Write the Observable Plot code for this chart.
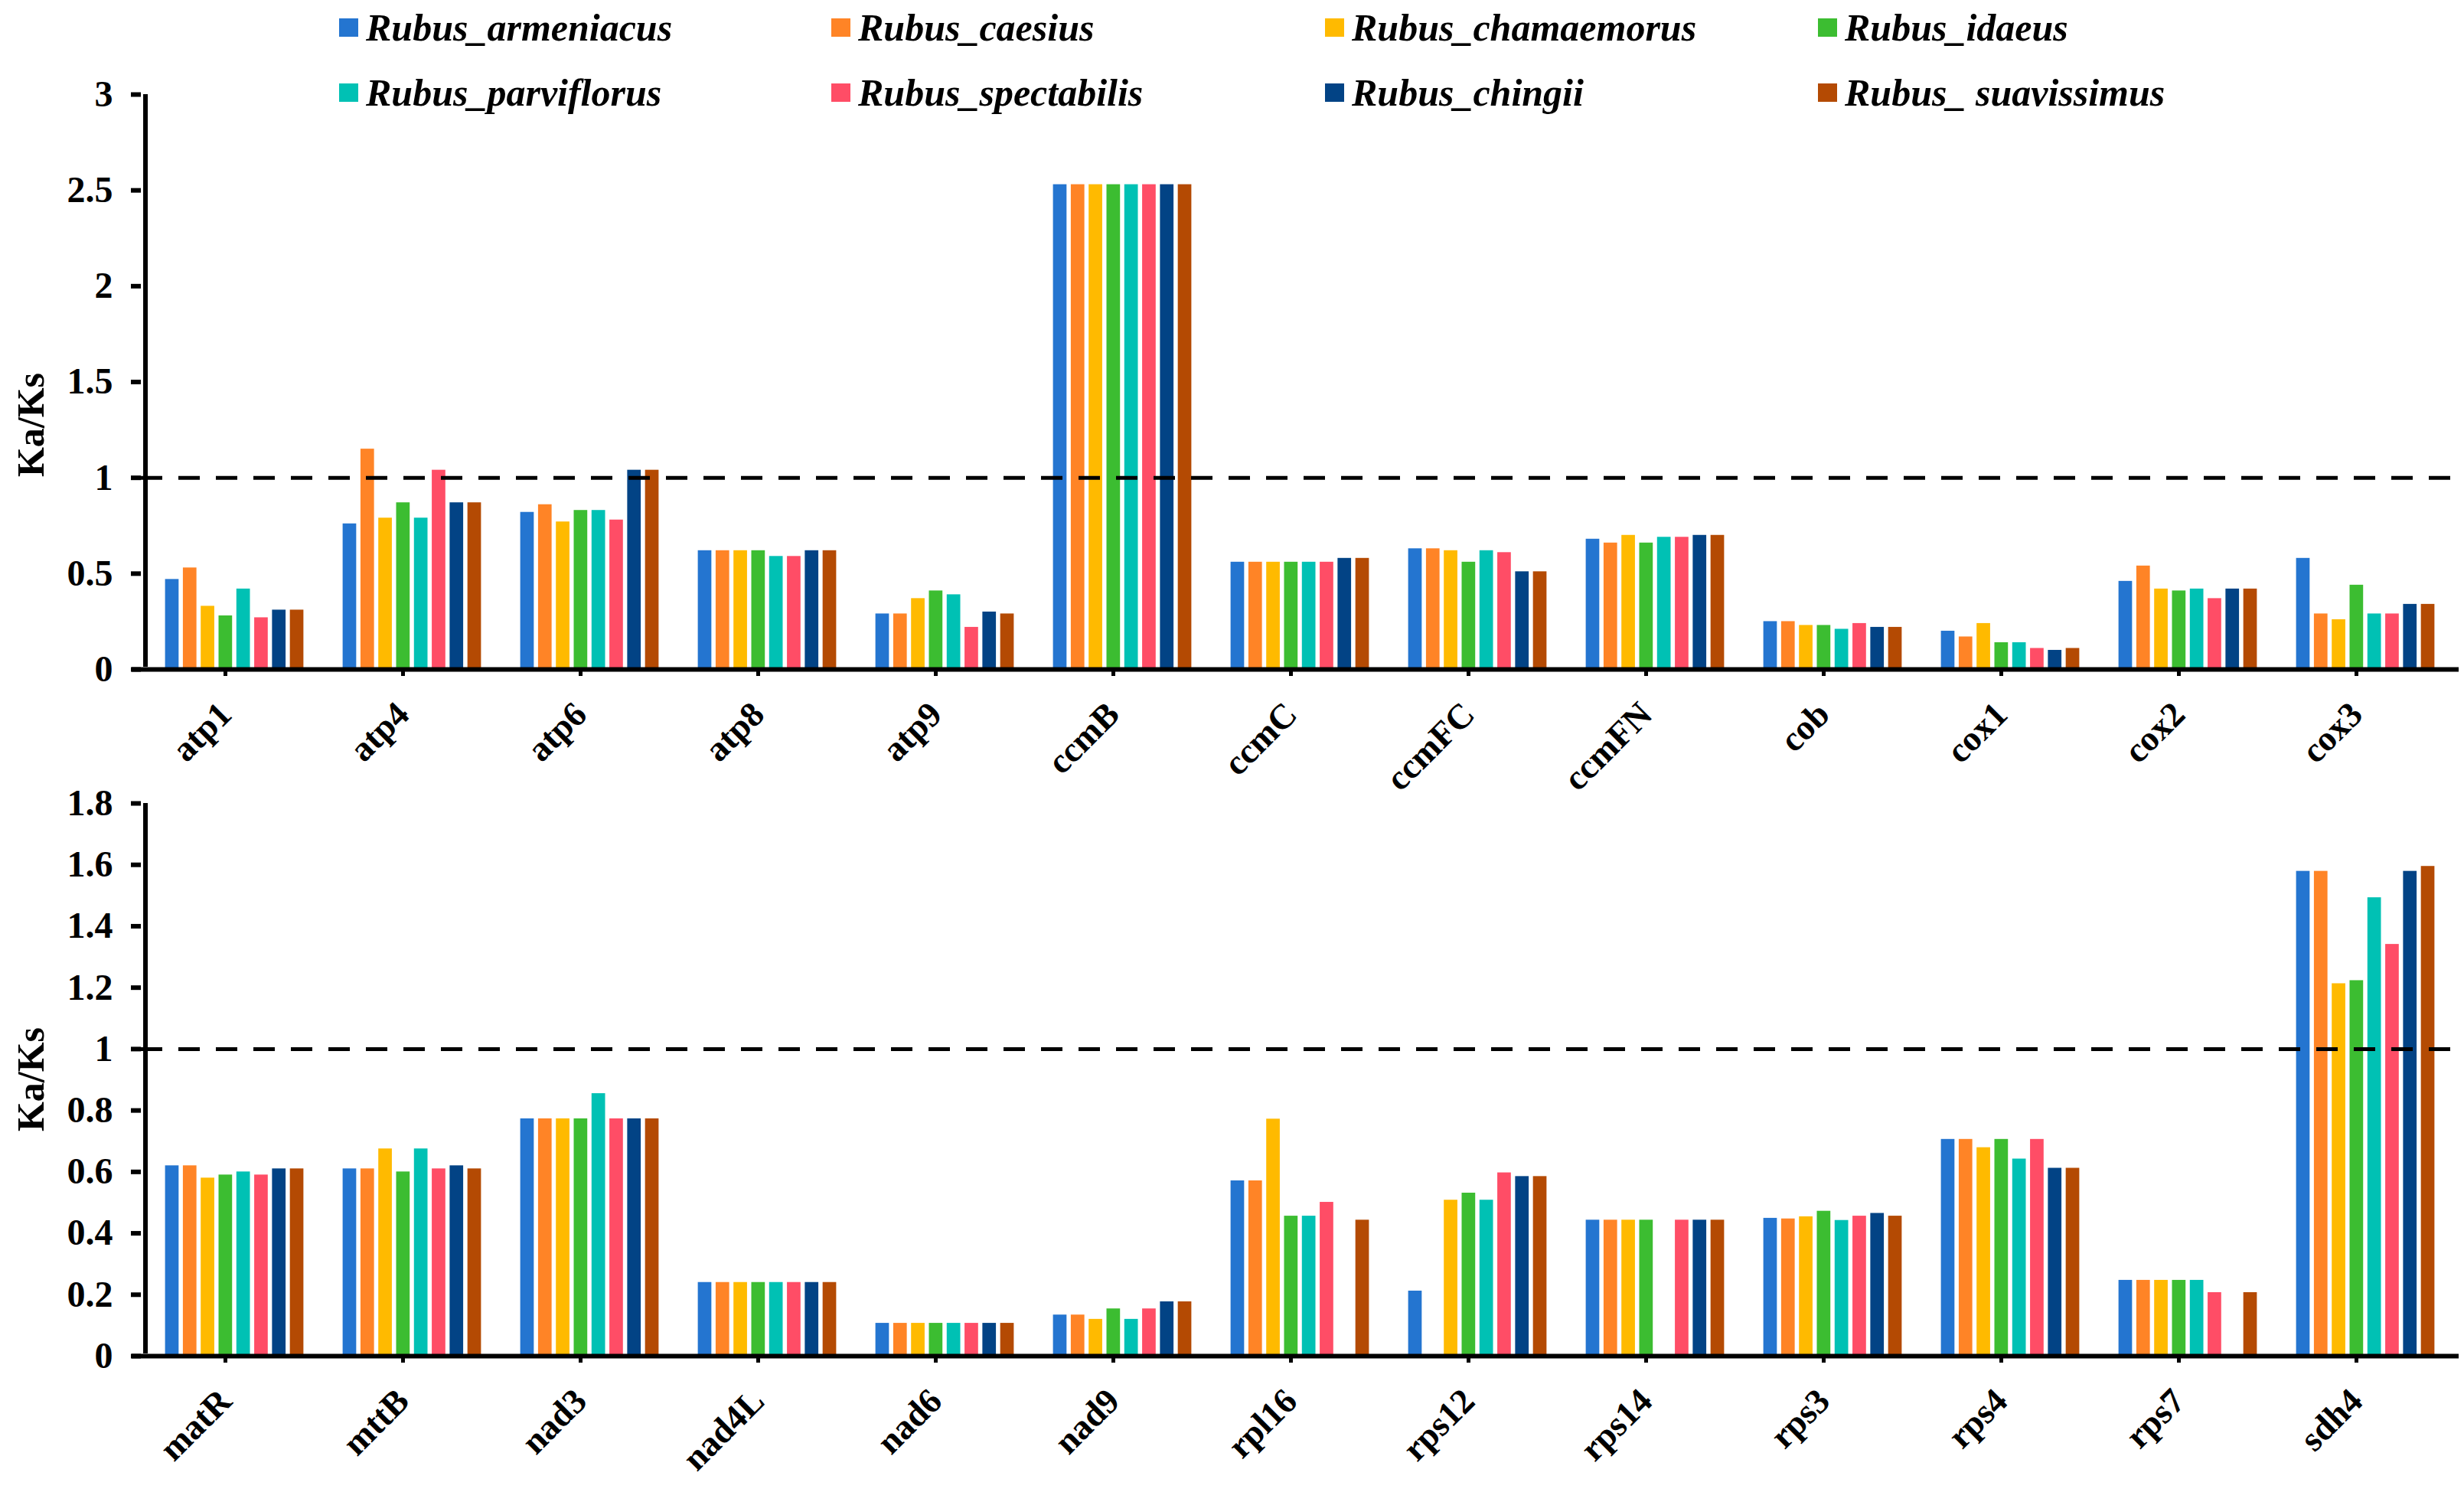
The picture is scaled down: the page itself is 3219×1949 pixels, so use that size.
<!DOCTYPE html>
<html>
<head>
<meta charset="utf-8">
<script src="https://cdn.jsdelivr.net/npm/d3@7"></script>
<script src="https://cdn.jsdelivr.net/npm/@observablehq/plot@0.6"></script>
<style>
  html, body { margin: 0; padding: 0; background: #fff; }
  #page { position: relative; width: 3219px; height: 1949px; overflow: hidden; background: #fff; }
  .panel { position: absolute; left: 0; }
  .legend-item { position: absolute; display: flex; align-items: center; font-family: "Liberation Serif", "Times New Roman", serif; font-weight: bold; font-style: italic; font-size: 50px; color: #000; white-space: pre; line-height: 1; }
  .swatch { width: 25px; height: 24px; margin-right: 10px; }
  .ylabel { position: absolute; font-family: "Liberation Serif", "Times New Roman", serif; font-weight: bold; font-size: 50px; transform: translate(-50%, -50%) rotate(-90deg); white-space: nowrap; }
</style>
</head>
<body>
<div id="page"></div>
<script>
// ---- data ----
const species = ["Rubus_armeniacus", "Rubus_caesius", "Rubus_chamaemorus", "Rubus_idaeus",
                 "Rubus_parviflorus", "Rubus_spectabilis", "Rubus_chingii", "Rubus_ suavissimus"];
const colors = ["#2475D0", "#FF8426", "#FFBA00", "#3CBD31", "#00C1B4", "#FF4D66", "#024385", "#B44A03"];

const genesTop = ["atp1", "atp4", "atp6", "atp8", "atp9", "ccmB", "ccmC", "ccmFC", "ccmFN", "cob", "cox1", "cox2", "cox3"];
const genesBottom = ["matR", "mttB", "nad3", "nad4L", "nad6", "nad9", "rpl16", "rps12", "rps14", "rps3", "rps4", "rps7", "sdh4"];

// top panel, one array per species (order of genesTop)
const armeniacusTop  = [0.47, 0.76, 0.82, 0.62, 0.29, 2.53, 0.56, 0.63, 0.68, 0.25, 0.20, 0.46, 0.58];
const caesiusTop     = [0.53, 1.15, 0.86, 0.62, 0.29, 2.53, 0.56, 0.63, 0.66, 0.25, 0.17, 0.54, 0.29];
const chamaemorusTop = [0.33, 0.79, 0.77, 0.62, 0.37, 2.53, 0.56, 0.62, 0.70, 0.23, 0.24, 0.42, 0.26];
const idaeusTop      = [0.28, 0.87, 0.83, 0.62, 0.41, 2.53, 0.56, 0.56, 0.66, 0.23, 0.14, 0.41, 0.44];
const parviflorusTop = [0.42, 0.79, 0.83, 0.59, 0.39, 2.53, 0.56, 0.62, 0.69, 0.21, 0.14, 0.42, 0.29];
const spectabilisTop = [0.27, 1.04, 0.78, 0.59, 0.22, 2.53, 0.56, 0.61, 0.69, 0.24, 0.11, 0.37, 0.29];
const chingiiTop     = [0.31, 0.87, 1.04, 0.62, 0.30, 2.53, 0.58, 0.51, 0.70, 0.22, 0.10, 0.42, 0.34];
const suavissimusTop = [0.31, 0.87, 1.04, 0.62, 0.29, 2.53, 0.58, 0.51, 0.70, 0.22, 0.11, 0.42, 0.34];

// bottom panel, one array per species (order of genesBottom); null = no bar
const armeniacusBottom  = [0.62, 0.61, 0.773, 0.24, 0.107, 0.134, 0.571, 0.212, 0.443, 0.449, 0.706, 0.247, 1.579];
const caesiusBottom     = [0.62, 0.61, 0.773, 0.24, 0.107, 0.134, 0.571, null,  0.443, 0.447, 0.706, 0.247, 1.579];
const chamaemorusBottom = [0.58, 0.675, 0.773, 0.24, 0.107, 0.120, 0.772, 0.508, 0.443, 0.454, 0.679, 0.247, 1.213];
const idaeusBottom      = [0.59, 0.60, 0.773, 0.24, 0.107, 0.154, 0.456, 0.531, 0.443, 0.472, 0.706, 0.247, 1.223];
const parviflorusBottom = [0.60, 0.675, 0.855, 0.24, 0.107, 0.120, 0.456, 0.508, null,  0.442, 0.642, 0.247, 1.493];
const spectabilisBottom = [0.59, 0.61, 0.773, 0.24, 0.107, 0.154, 0.501, 0.597, 0.443, 0.456, 0.706, 0.207, 1.341];
const chingiiBottom     = [0.61, 0.62, 0.773, 0.24, 0.107, 0.177, null,  0.585, 0.443, 0.465, 0.612, null,  1.579];
const suavissimusBottom = [0.61, 0.61, 0.773, 0.24, 0.107, 0.177, 0.443, 0.585, 0.443, 0.456, 0.612, 0.207, 1.595];

const ticksTop = [0, 0.5, 1, 1.5, 2, 2.5, 3];
const ticksBottom = [0, 0.2, 0.4, 0.6, 0.8, 1, 1.2, 1.4, 1.6, 1.8];
const yLabel = "Ka/Ks";

// ---- drawing ----
const W = 3219, ML = 184, MR = 7;
const FONT = "'Liberation Serif', 'Times New Roman', serif";

function panel(genes, series, yMax, ticks, height, marginTop, marginBottom) {
  const rows = [];
  series.forEach((arr, s) => arr.forEach((v, g) => {
    if (v != null) rows.push({gene: genes[g], s, species: species[s], value: v});
  }));
  const step = (W - ML - MR) / genes.length;
  const bars = species.map((sp, i) => Plot.barY(rows.filter(d => d.s === i), {
    x: "gene", y: "value", fill: colors[i],
    insetLeft: (0.11 + 0.1 * i) * step,
    insetRight: (1 - 0.19 - 0.1 * i) * step
  }));
  return Plot.plot({
    width: W, height, marginLeft: ML, marginRight: MR, marginTop, marginBottom,
    style: {fontFamily: FONT, fontWeight: "bold", background: "transparent", maxWidth: "none", overflow: "visible"},
    x: {type: "band", domain: genes, padding: 0},
    y: {domain: [0, yMax]},
    marks: [
      ...bars,
      Plot.ruleY([1], {stroke: "#000", strokeWidth: 5, strokeDasharray: "28,21"}),
      Plot.ruleY([0], {stroke: "#000", strokeWidth: 6, insetLeft: -12}),
      Plot.ruleX([genes[0]], {y1: 0, y2: yMax, dx: -step / 2, stroke: "#000", strokeWidth: 6, insetTop: -3}),
      Plot.axisY({ticks, tickSize: 13, tickPadding: 24, strokeWidth: 6, fontSize: 48, label: null,
                  tickFormat: d => String(d)}),
      Plot.axisX({tickSize: 9, tickPadding: 42, strokeWidth: 5, fontSize: 46, tickRotate: -45, label: null,
                  textStroke: null, dx: -12})
    ]
  });
}

const page = document.getElementById("page");

const topH = 1010;
const topChart = panel(genesTop,
  [armeniacusTop, caesiusTop, chamaemorusTop, idaeusTop, parviflorusTop, spectabilisTop, chingiiTop, suavissimusTop],
  3, ticksTop, topH, 123, topH - 874);
const topWrap = document.createElement("div");
topWrap.className = "panel"; topWrap.style.top = "0px";
topWrap.appendChild(topChart);
page.appendChild(topWrap);

const botTop = 1010, botH = 1949 - botTop;
const bottomChart = panel(genesBottom,
  [armeniacusBottom, caesiusBottom, chamaemorusBottom, idaeusBottom, parviflorusBottom, spectabilisBottom, chingiiBottom, suavissimusBottom],
  1.8, ticksBottom, botH, 1049 - botTop, botH - (1771 - botTop));
const botWrap = document.createElement("div");
botWrap.className = "panel"; botWrap.style.top = botTop + "px";
botWrap.appendChild(bottomChart);
page.appendChild(botWrap);

// y labels
[555, 1410].forEach(cy => {
  const el = document.createElement("div");
  el.className = "ylabel";
  el.textContent = yLabel;
  el.style.left = "40px"; el.style.top = cy + "px";
  page.appendChild(el);
});

// legend
const legendX = [443, 1086, 1731, 2375];
const legendY = [36, 121];
species.forEach((sp, i) => {
  const item = document.createElement("div");
  item.className = "legend-item";
  item.style.left = legendX[i % 4] + "px";
  item.style.top = (legendY[Math.floor(i / 4)] - 30) + "px";
  item.style.height = "60px";
  const sw = document.createElement("div");
  sw.className = "swatch"; sw.style.background = colors[i];
  const tx = document.createElement("span");
  tx.textContent = sp;
  item.appendChild(sw); item.appendChild(tx);
  page.appendChild(item);
});
</script>
</body>
</html>
